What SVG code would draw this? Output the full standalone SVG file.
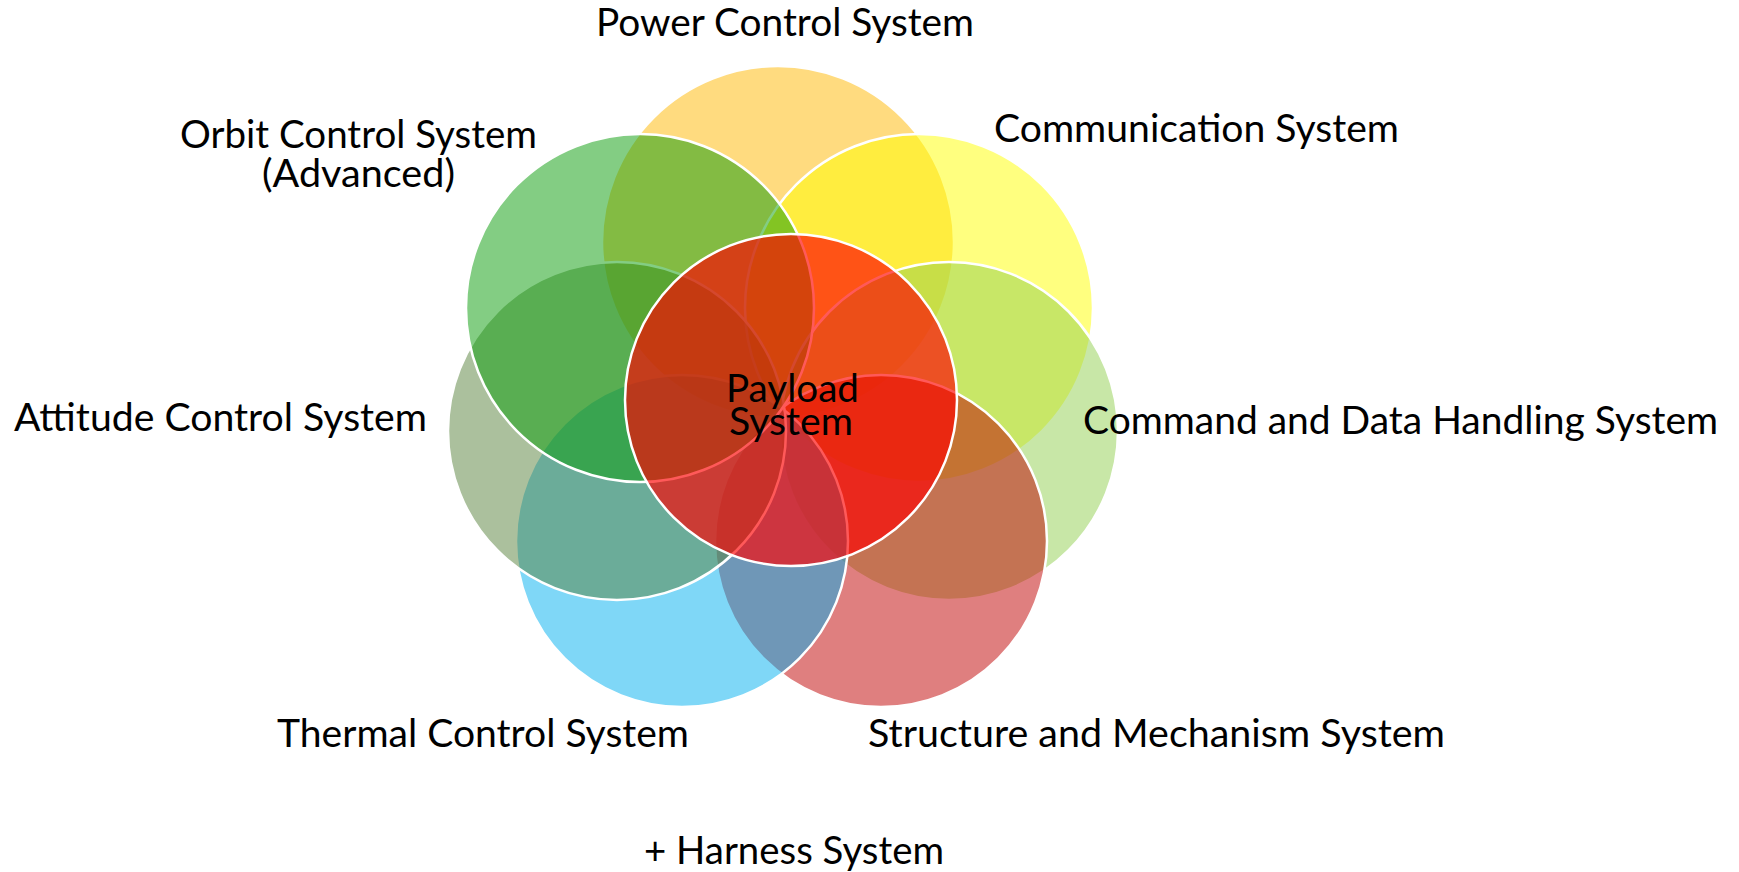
<svg xmlns="http://www.w3.org/2000/svg" width="1739" height="872" viewBox="0 0 1739 872">
<style>
  .c { stroke: #FFFFFF; stroke-width: 2.5; fill-opacity: 0.5; }
  .t { font-family: Lato, "Liberation Sans", sans-serif; font-size: 38px; fill: #000000; }
</style>
<rect width="1739" height="872" fill="#FFFFFF"/>
<g id="power">
  <circle class="c" cx="778" cy="242" r="176" fill="#FFB800"/>
  <text class="t" x="596" y="36" textLength="378" lengthAdjust="spacingAndGlyphs">Power Control System</text>
</g>
<g id="communication">
  <circle class="c" cx="919" cy="308" r="174" fill="#FFFF00"/>
  <text class="t" x="994" y="142" textLength="405" lengthAdjust="spacingAndGlyphs">Communication System</text>
</g>
<g id="command">
  <circle class="c" cx="949" cy="431" r="169" fill="#92D050"/>
  <text class="t" x="1083" y="434" textLength="635" lengthAdjust="spacingAndGlyphs">Command and Data Handling System</text>
</g>
<g id="structure">
  <circle class="c" cx="881" cy="541" r="166" fill="#C00000"/>
  <text class="t" x="868" y="747" textLength="577" lengthAdjust="spacingAndGlyphs">Structure and Mechanism System</text>
</g>
<g id="thermal">
  <circle class="c" cx="682" cy="541" r="166" fill="#00B0F0"/>
  <text class="t" x="277" y="747" textLength="412" lengthAdjust="spacingAndGlyphs">Thermal Control System</text>
</g>
<g id="attitude">
  <circle class="c" cx="617" cy="431" r="169" fill="#57813B"/>
  <text class="t" x="14" y="431" textLength="413" lengthAdjust="spacingAndGlyphs">Attitude Control System</text>
</g>
<g id="orbit">
  <circle class="c" cx="640" cy="308" r="174" fill="#089C08"/>
  <text class="t" x="180" y="148" textLength="357" lengthAdjust="spacingAndGlyphs">Orbit Control System</text>
  <text class="t" x="262" y="187" textLength="193" lengthAdjust="spacingAndGlyphs">(Advanced)</text>
</g>
<g id="payload">
  <circle cx="791" cy="400" r="166" fill="#FF0000" fill-opacity="0.65" stroke="#FFFFFF" stroke-width="2.5"/>
  <text class="t" x="726" y="402" textLength="133" lengthAdjust="spacingAndGlyphs">Payload</text>
  <text class="t" x="729" y="435" textLength="124" lengthAdjust="spacingAndGlyphs">System</text>
</g>
<g id="harness">
  <text class="t" x="644" y="864" textLength="300" lengthAdjust="spacingAndGlyphs">+ Harness System</text>
</g>
</svg>
